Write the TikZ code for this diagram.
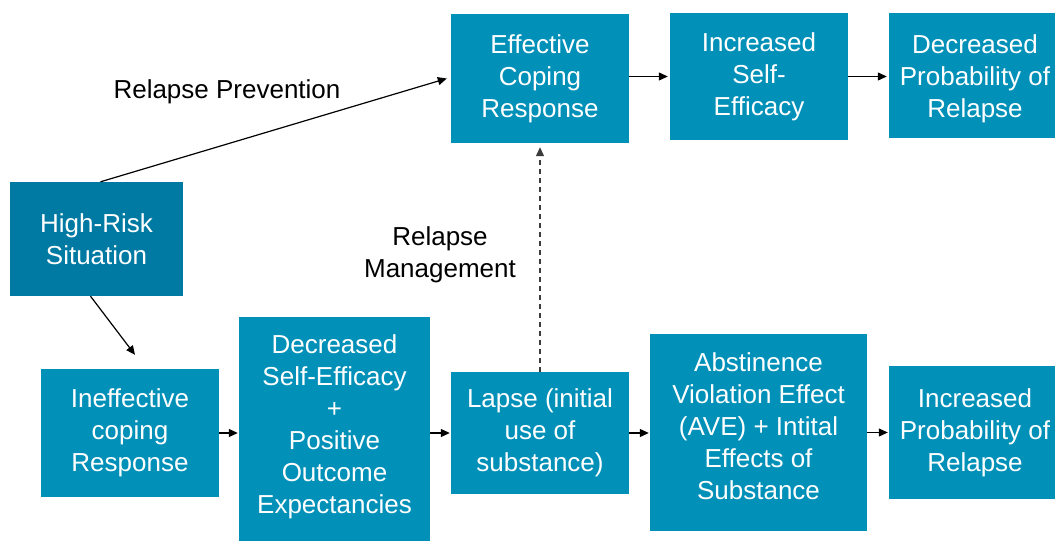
\documentclass[tikz,border=0pt]{standalone}
\usepackage{fontspec}
\setmainfont{Liberation Sans}
\usetikzlibrary{arrows.meta}
\definecolor{boxblue}{RGB}{0,144,184}
\definecolor{hrblue}{RGB}{0,121,163}
\definecolor{dashgray}{RGB}{60,60,60}
\tikzset{
  every node/.style={font=\fontsize{26}{32}\selectfont},
  box/.style={fill=boxblue, text=white, align=center, inner sep=0pt},
  boxtext/.style={text=white, align=center, inner sep=0pt},
  arr/.style={-{Triangle[length=9pt,width=8pt]}, line width=1.2pt, black},
  darr/.style={-{Triangle[length=9pt,width=8pt]}, line width=1.2pt, dashgray, dash pattern=on 5pt off 4pt},
  lbl/.style={text=black, align=center}
}
\begin{document}
\begin{tikzpicture}[x=1pt,y=1pt]
\useasboundingbox[fill=white] (0,0) rectangle (1055,541);
% top row
\node[box, fill=hrblue, minimum width=173pt, minimum height=114pt] (hr) at (96.5,302) {High-Risk\\Situation};
\node[box, minimum width=178pt, minimum height=129pt] (ecr) at (540,462.5) {Effective\\Coping\\Response};
\node[box, minimum width=178pt, minimum height=127pt] (ise) at (759,464.5) {Increased\\Self-\\Efficacy};
\node[box, minimum width=166pt, minimum height=125pt] (dpr) at (972,465.5) {};
\node[boxtext] (dprt) at ([xshift=3pt,yshift=-3pt]dpr.center) {Decreased\\Probability of\\Relapse};
% bottom row
\node[box, minimum width=178pt, minimum height=128pt] (icr) at (130,108) {Ineffective\\coping\\Response};
\node[box, minimum width=191pt, minimum height=224pt] (dse) at (334.5,112) {};
\node[boxtext] (dset) at ([yshift=2pt]dse.center) {Decreased\\Self-Efficacy\\+\\Positive\\Outcome\\Expectancies};
\node[box, minimum width=178pt, minimum height=122pt] (lapse) at (540,108) {Lapse (initial\\use of\\substance)};
\node[box, minimum width=217pt, minimum height=197pt] (ave) at (758.5,108.5) {};
\node[boxtext] (avet) at ([yshift=6pt]ave.center) {Abstinence\\Violation Effect\\(AVE) + Intital\\Effects of\\Substance};
\node[box, minimum width=166pt, minimum height=133pt] (ipr) at (972,108.5) {};
\node[boxtext] (iprt) at ([xshift=3pt]ipr.center) {Increased\\Probability of\\Relapse};
% labels
\node[lbl] (rp) at (227,449) {Relapse Prevention};
\node[lbl] (rm) at (440,286) {Relapse\\Management};
% connectors
\draw[arr] ([xshift=4pt]hr.north) -- ([xshift=-4pt]ecr.west);
\draw[arr] ([xshift=-6pt]hr.south) -- ([xshift=5pt,yshift=14pt]icr.north);
\draw[arr, shorten >=2pt] (ise.west -| ecr.east) -- (ise.west);
\draw[arr, shorten >=2pt] (ise.east) -- (ise.east -| dpr.west);
\draw[arr, shorten >=1pt] (icr.east) -- (icr.east -| dse.west);
\draw[arr, shorten >=1pt] (dse.east |- lapse.west) -- (lapse.west);
\draw[arr, shorten >=1pt] (lapse.east) -- (lapse.east -| ave.west);
\draw[arr, shorten >=1pt] (ave.east |- ipr.west) -- (ipr.west);
\draw[darr] (lapse.north) -- ([yshift=-4pt]ecr.south);
\end{tikzpicture}
\end{document}
